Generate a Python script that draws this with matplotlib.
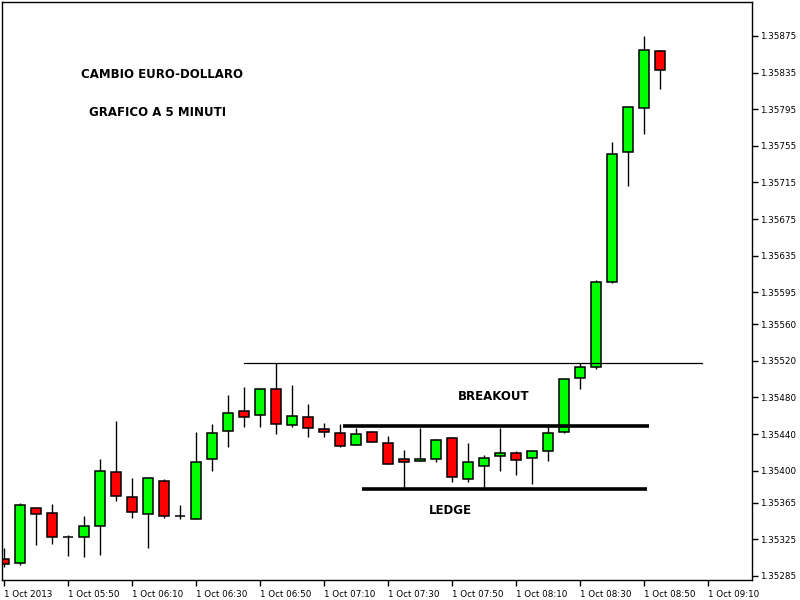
import matplotlib
matplotlib.use("Agg")
import matplotlib.pyplot as plt
from matplotlib.patches import Rectangle

# EUR/USD 5 minute candles, 1 Oct 2013 from 05:30
opens = [1.35303, 1.35299, 1.35359, 1.35354, 1.35328, 1.35328, 1.35340, 1.35399, 1.35371, 1.35353,
         1.35389, 1.35350, 1.35347, 1.35413, 1.35443, 1.35465, 1.35461, 1.35489, 1.35450, 1.35459,
         1.35446, 1.35441, 1.35428, 1.35442, 1.35430, 1.35413, 1.35411, 1.35413, 1.35436, 1.35391,
         1.35405, 1.35416, 1.35419, 1.35414, 1.35422, 1.35442, 1.35501, 1.35513, 1.35606, 1.35748,
         1.35796, 1.35859]
closes = [1.35298, 1.35362, 1.35353, 1.35328, 1.35328, 1.35340, 1.35400, 1.35372, 1.35355, 1.35392,
          1.35350, 1.35350, 1.35410, 1.35441, 1.35463, 1.35459, 1.35489, 1.35451, 1.35460, 1.35447,
          1.35442, 1.35427, 1.35440, 1.35431, 1.35407, 1.35409, 1.35413, 1.35434, 1.35393, 1.35409,
          1.35414, 1.35419, 1.35412, 1.35422, 1.35441, 1.35500, 1.35513, 1.35606, 1.35746, 1.35797,
          1.35860, 1.35838]
highs = [1.35316, 1.35365, 1.35359, 1.35364, 1.35330, 1.35350, 1.35413, 1.35454, 1.35392, 1.35392,
         1.35391, 1.35363, 1.35442, 1.35451, 1.35483, 1.35492, 1.35490, 1.35518, 1.35494, 1.35473,
         1.35452, 1.35451, 1.35447, 1.35443, 1.35438, 1.35423, 1.35447, 1.35435, 1.35437, 1.35430,
         1.35417, 1.35447, 1.35421, 1.35423, 1.35451, 1.35500, 1.35518, 1.35608, 1.35759, 1.35797,
         1.35875, 1.35860]
lows = [1.35295, 1.35297, 1.35319, 1.35320, 1.35307, 1.35306, 1.35308, 1.35367, 1.35348, 1.35316,
        1.35348, 1.35347, 1.35347, 1.35400, 1.35426, 1.35448, 1.35448, 1.35440, 1.35448, 1.35437,
        1.35437, 1.35426, 1.35428, 1.35431, 1.35407, 1.35380, 1.35411, 1.35410, 1.35388, 1.35388,
        1.35380, 1.35400, 1.35395, 1.35386, 1.35411, 1.35441, 1.35489, 1.35511, 1.35605, 1.35711,
        1.35768, 1.35817]

time_labels = ["1 Oct 2013", "1 Oct 05:50", "1 Oct 06:10", "1 Oct 06:30", "1 Oct 06:50",
               "1 Oct 07:10", "1 Oct 07:30", "1 Oct 07:50", "1 Oct 08:10", "1 Oct 08:30",
               "1 Oct 08:50", "1 Oct 09:10"]
price_ticks = [1.35285, 1.35325, 1.35365, 1.35400, 1.35440, 1.35480, 1.35520, 1.35560,
               1.35595, 1.35635, 1.35675, 1.35715, 1.35755, 1.35795, 1.35835, 1.35875]

# support / resistance lines: (start index, end index, price)
top_line = (15.0, 43.6, 1.35518)
breakout_line = (21.2, 40.3, 1.35449)
ledge_line = (22.4, 40.2, 1.35380)

fig = plt.figure(figsize=(8, 6), dpi=100)
ax = fig.add_axes([2 / 800, 20 / 600, 750 / 800, 578 / 600])

w = 0.62
for i in range(len(opens)):
    o, c, h, l = opens[i], closes[i], highs[i], lows[i]
    col = "#00ff00" if c >= o else "#ff0000"
    ax.plot([i, i], [l, h], color="black", lw=1, zorder=1, solid_capstyle="butt")
    bottom = min(o, c)
    height = abs(c - o)
    ax.add_patch(Rectangle((i - w / 2, bottom), w, height, facecolor=col,
                           edgecolor="black", lw=1.1, zorder=2))

ax.plot(top_line[:2], [top_line[2]] * 2, color="black", lw=0.9)
ax.plot(breakout_line[:2], [breakout_line[2]] * 2, color="black", lw=2.6, solid_capstyle="butt")
ax.plot(ledge_line[:2], [ledge_line[2]] * 2, color="black", lw=2.6, solid_capstyle="butt")

ax.set_xlim(-0.125, 46.75)
ax.set_ylim(1.352806, 1.359121)

ax.set_xticks(range(0, 48, 4))
ax.set_xticklabels(time_labels, ha="left", fontsize=6.3)
ax.set_yticks(price_ticks)
ax.set_yticklabels(["%.5f" % p for p in price_ticks], fontsize=6.3)
ax.yaxis.tick_right()
ax.tick_params(axis="both", length=4, width=1, direction="out", pad=2, colors="black")
ax.tick_params(axis="x", pad=3)
for s in ax.spines.values():
    s.set_linewidth(1)

ax.text(-0.125 + 10.0, 1.35875 - 39 * 1.0926e-5, "CAMBIO EURO-DOLLARO", fontsize=8.5,
        fontweight="bold", ha="center", va="center")
ax.text(9.6, 1.35875 - 77 * 1.0926e-5, "GRAFICO A 5 MINUTI", fontsize=8.5,
        fontweight="bold", ha="center", va="center")
ax.text(30.6, 1.35481, "BREAKOUT", fontsize=8.5, fontweight="bold", ha="center", va="center")
ax.text(27.9, 1.35357, "LEDGE", fontsize=8.5, fontweight="bold", ha="center", va="center")

fig.savefig("out.png", dpi=100)
